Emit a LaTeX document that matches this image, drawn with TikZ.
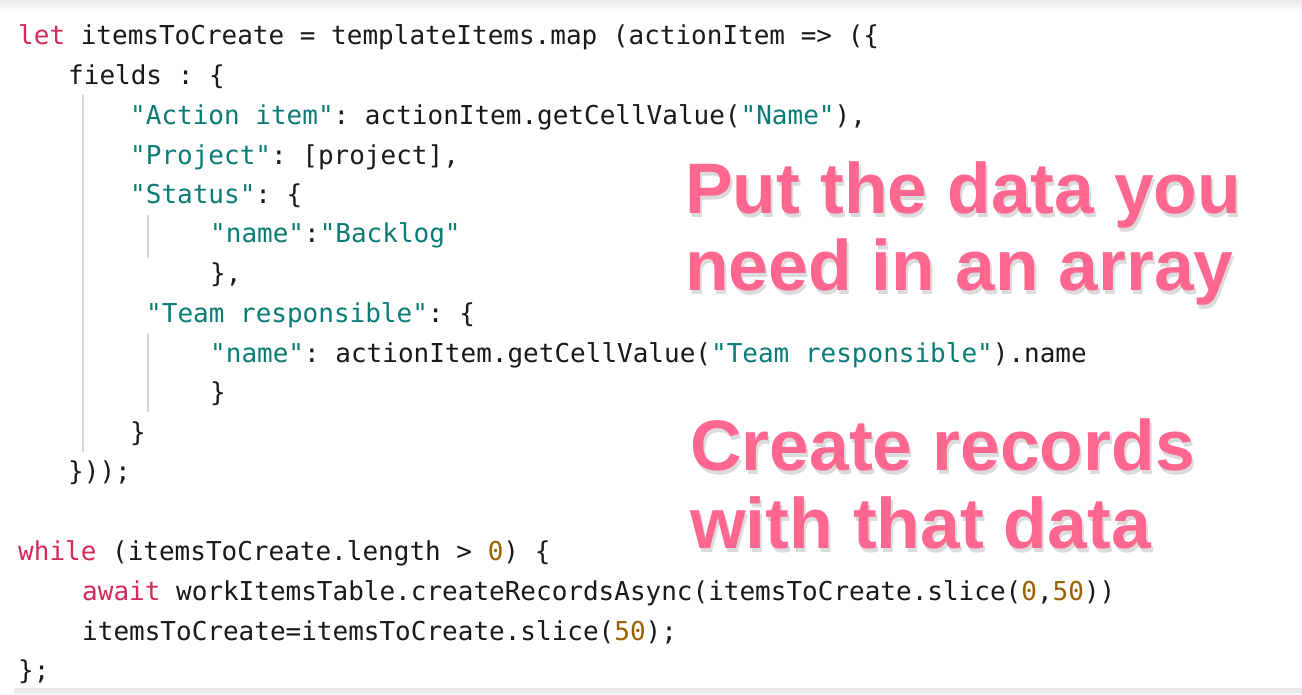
\documentclass[tikz,border=0pt]{standalone}
\usepackage{fontspec}
\setmonofont{DejaVu Sans Mono}
\newfontfamily\ovf{Liberation Sans}
\definecolor{kw}{HTML}{D22B55}
\definecolor{st}{HTML}{0B7C75}
\definecolor{nm}{HTML}{9A6200}
\definecolor{pk}{HTML}{FF6690}
\definecolor{gd}{HTML}{D6D6D6}
\newcommand{\K}[1]{\textcolor{kw}{#1}}
\newcommand{\Sx}[1]{\textcolor{st}{#1}}
\newcommand{\N}[1]{\textcolor{nm}{#1}}
\tikzset{code/.style={anchor=base west,inner sep=0,font=\ttfamily\fontsize{26}{30}\selectfont,text=black!90},
ov/.style={anchor=base west,inner sep=0,font=\ovf\bfseries\fontsize{71.5}{80}\selectfont},
guide/.style={draw=gd,line width=1.5pt}}
\newcommand{\ovtext}[3]{%
  \node[ov,text=black!14] at (#1+2,#2+4) {#3};
  \node[ov,text=pk] (#3) at (#1,#2) {#3};}
\begin{document}
\begin{tikzpicture}[x=1pt,y=-1pt]
\useasboundingbox (0,0) rectangle (1302,694);
\fill[white] (0,0) rectangle (1302,694);
\shade[top color=black!8,bottom color=white] (0,0) rectangle (1302,12);
\fill[black!8] (14,688) rectangle (1302,694);
\draw[guide] (83,95) -- (83,452);
\draw[guide] (148,215) -- (148,258);
\draw[guide] (148,333) -- (148,412);
\node[code] (l1) at (18,44) {\K{let} itemsToCreate = templateItems.map (actionItem => (\{};
\node[code] (l2) at (68,84) {fields : \{};
\node[code] (l3) at (130,124) {\Sx{"Action item"}: actionItem.getCellValue(\Sx{"Name"}),};
\node[code] (l4) at (130,164) {\Sx{"Project"}: [project],};
\node[code] (l5) at (130,203) {\Sx{"Status"}: \{};
\node[code] (l6) at (210,242) {\Sx{"name"}:\Sx{"Backlog"}};
\node[code] (l7) at (210,282) {\},};
\node[code] (l8) at (146,322) {\Sx{"Team responsible"}: \{};
\node[code] (l9) at (210,362) {\Sx{"name"}: actionItem.getCellValue(\Sx{"Team responsible"}).name};
\node[code] (l10) at (210,401) {\}};
\node[code] (l11) at (130,441) {\}};
\node[code] (l12) at (68,480) {\}));};
\node[code] (l13) at (18,560) {\K{while} (itemsToCreate.length > \N{0}) \{};
\node[code] (l14) at (82,600) {\K{await} workItemsTable.createRecordsAsync(itemsToCreate.slice(\N{0},\N{50}))};
\node[code] (l15) at (82,640) {itemsToCreate=itemsToCreate.slice(\N{50});};
\node[code] (l16) at (18,679) {\};};
\ovtext{685}{213}{Put the data you}
\ovtext{685}{290}{need in an array}
\ovtext{690}{470}{Create records}
\ovtext{690}{548}{with that data}
\end{tikzpicture}
\end{document}
